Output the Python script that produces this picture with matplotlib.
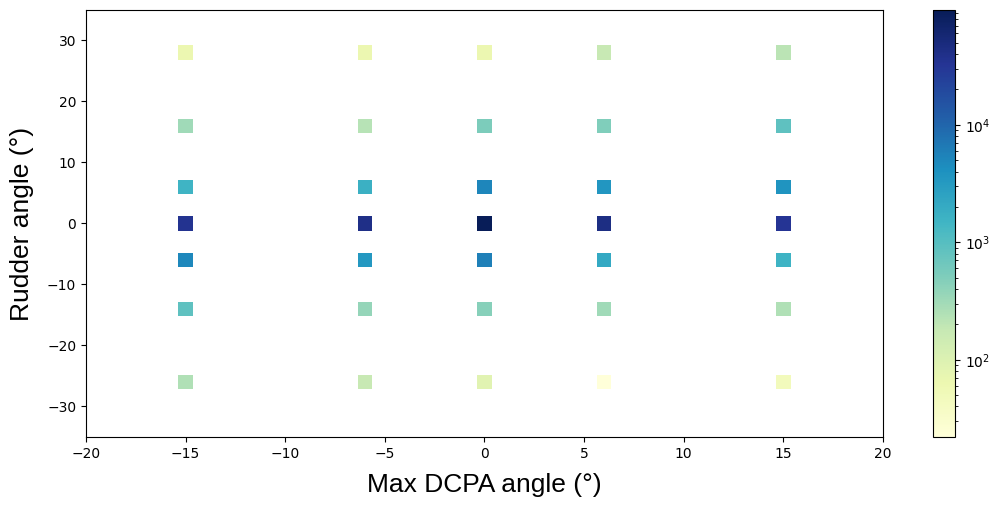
import numpy as np
import matplotlib
matplotlib.use("Agg")
import matplotlib.pyplot as plt
from matplotlib.colors import LogNorm

# grid of max DCPA angles and rudder angles
dcpa_angles = [-15, -6, 0, 6, 15]
rudder_angles = [28, 16, 6, 0, -6, -14, -26]

# counts per (dcpa, rudder) cell
counts_m15 = [65, 320, 1510, 34800, 4940, 873, 249]
counts_m6 = [65, 229, 1710, 41100, 3340, 378, 178]
counts_0 = [65, 529, 5070, 95000, 5840, 447, 89]
counts_p6 = [178, 507, 3560, 44700, 2140, 320, 22]
counts_p15 = [211, 873, 3780, 33300, 1570, 249, 47]

counts = np.array([counts_m15, counts_m6, counts_0, counts_p6, counts_p15])
xx, yy = np.meshgrid(dcpa_angles, rudder_angles, indexing="ij")

fig = plt.figure(figsize=(9.96, 5.05), dpi=100)
ax = fig.add_axes([0.0863, 0.1347, 0.8002, 0.8455])
cax = fig.add_axes([0.937, 0.1347, 0.022, 0.8455])

sc = ax.scatter(xx.ravel(), yy.ravel(), c=counts.ravel(), marker="s", s=110,
                cmap="YlGnBu", norm=LogNorm(), linewidths=0)

ax.set_xlim(-20, 20)
ax.set_ylim(-35, 35)
ax.set_xticks(range(-20, 21, 5))
ax.set_yticks(range(-30, 31, 10))
ax.set_xlabel("Max DCPA angle (°)", fontsize=19, family="Liberation Sans", labelpad=9)
ax.set_ylabel("Rudder angle (°)", fontsize=19, family="Liberation Sans", labelpad=9)

fig.colorbar(sc, cax=cax)

fig.savefig("out.png", dpi=100)
